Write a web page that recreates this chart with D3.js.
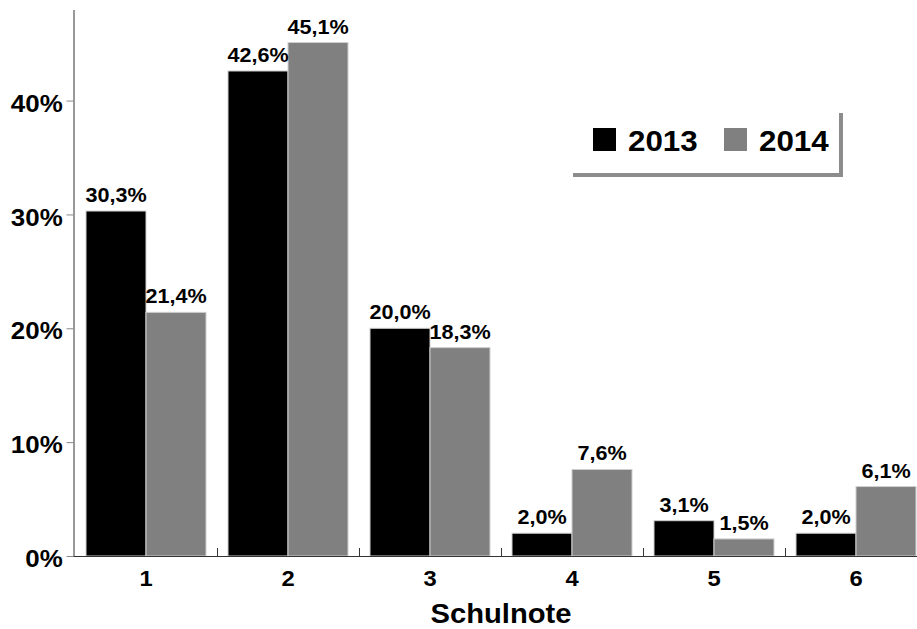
<!DOCTYPE html>
<html>
<head>
<meta charset="utf-8">
<script src="https://cdn.jsdelivr.net/npm/d3@7"></script>
<style>
  body { margin: 0; background: #fff; }
  text { font-family: "Liberation Sans", Arial, sans-serif; font-weight: bold; fill: #000; }
</style>
</head>
<body>
<div id="chart"></div>
<script>
// Schulnoten, Anteil in Prozent
const grades = ["1", "2", "3", "4", "5", "6"];
const years = ["2013", "2014"];
const values2013 = [30.3, 42.6, 20.0, 2.0, 3.1, 2.0];
const values2014 = [21.4, 45.1, 18.3, 7.6, 1.5, 6.1];
const yTicks = [0, 10, 20, 30, 40];

const width = 917, height = 629;
const colors = { "2013": "#000000", "2014": "#808080" };
const stretch = "scale(1.08,1)"; // source fonts look slightly wide

const rows = grades.map((g, i) => ({
    grade: g,
    bars: [
        { year: "2013", value: values2013[i] },
        { year: "2014", value: values2014[i] }
    ]
}));

const svg = d3.select("#chart")
    .append("svg")
    .attr("width", width)
    .attr("height", height);

const x = d3.scaleBand()
    .domain(grades)
    .range([75, 927])
    .paddingInner(0.155)
    .paddingOuter(0.0775);

const xSub = d3.scaleBand()
    .domain(years)
    .range([0, x.bandwidth()]);

const y = d3.scaleLinear()
    .domain([0, 48])
    .range([556, 9.5]);

const fmt = v => v.toFixed(1).replace(".", ",") + "%";

// bars
const groups = svg.selectAll("g.grade")
    .data(rows)
    .enter()
    .append("g")
        .attr("class", "grade")
        .attr("transform", d => `translate(${x(d.grade)},0)`);

groups.selectAll("rect")
    .data(d => d.bars)
    .enter()
    .append("rect")
        .attr("x", d => xSub(d.year))
        .attr("y", d => y(d.value))
        .attr("width", xSub.bandwidth())
        .attr("height", d => y(0) - y(d.value))
        .attr("fill", d => colors[d.year])
        .attr("stroke", "#cfcfcf")
        .attr("stroke-width", 1);

// value labels
groups.selectAll("text.val")
    .data(d => d.bars)
    .enter()
    .append("text")
        .attr("class", "val")
        .attr("text-anchor", "middle")
        .attr("font-size", 20)
        .attr("transform", d => `translate(${xSub(d.year) + xSub.bandwidth() / 2},${y(d.value) - 9}) ${stretch}`)
        .text(d => fmt(d.value));

// y axis
const yAxis = svg.append("g")
    .attr("transform", "translate(73.5,0)")
    .call(d3.axisLeft(y)
        .tickValues(yTicks)
        .tickSize(7)
        .tickSizeOuter(0)
        .tickPadding(3)
        .tickFormat(d => d + "%"));

yAxis.select(".domain").attr("stroke", "#333");
yAxis.selectAll(".tick line").attr("stroke", "#888");
yAxis.selectAll(".tick text")
    .attr("font-size", 24)
    .attr("font-family", null)
    .attr("dy", "0.44em")
    .attr("fill", "#000")
    .attr("transform", stretch);

// x axis
const xAxis = svg.append("g")
    .attr("transform", `translate(0,${y(0)})`)
    .call(d3.axisBottom(x)
        .tickSize(0)
        .tickPadding(8));

xAxis.select(".domain")
    .attr("stroke", "#333")
    .attr("d", `M73.5,0.5H${width}`);
xAxis.selectAll(".tick text")
    .attr("font-size", 22)
    .attr("font-family", null)
    .attr("dy", "1em")
    .attr("fill", "#000")
    .attr("transform", stretch);

// separators between grade groups
const gap = x.step() - x.bandwidth();
xAxis.selectAll("line.sep")
    .data(grades.slice(1))
    .enter()
    .append("line")
        .attr("class", "sep")
        .attr("x1", d => x(d) - gap / 2 + 0.5)
        .attr("x2", d => x(d) - gap / 2 + 0.5)
        .attr("y1", -8)
        .attr("y2", 0)
        .attr("stroke", "#333");

// axis title
svg.append("text")
    .attr("text-anchor", "middle")
    .attr("font-size", 27)
    .attr("transform", `translate(501,623) ${stretch}`)
    .text("Schulnote");

// legend
const legend = svg.append("g").attr("transform", "translate(569,109)");
legend.append("rect")
    .attr("x", 4).attr("y", 4)
    .attr("width", 270).attr("height", 64)
    .attr("fill", "#8c8c8c");
legend.append("rect")
    .attr("width", 270).attr("height", 64)
    .attr("fill", "#fff");

const legendX = d3.scaleOrdinal().domain(years).range([24, 155]);
const items = legend.selectAll("g.item")
    .data(years)
    .enter()
    .append("g")
        .attr("class", "item")
        .attr("transform", d => `translate(${legendX(d)},19)`);
items.append("rect")
    .attr("width", 23).attr("height", 23)
    .attr("fill", d => colors[d]);
items.append("text")
    .attr("font-size", 29)
    .attr("transform", `translate(35,23) ${stretch}`)
    .text(d => d);
</script>
</body>
</html>
